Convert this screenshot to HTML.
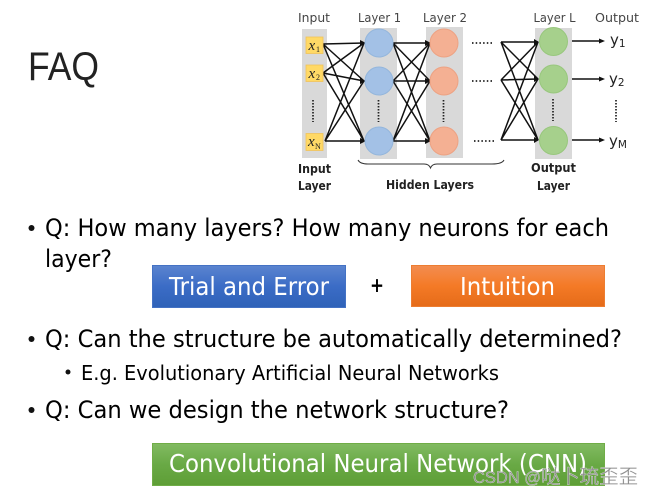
<!DOCTYPE html>
<html><head><meta charset="utf-8"><style>
html,body{margin:0;padding:0;background:#fff}
svg{display:block}
text{font-family:"DejaVu Sans","Noto Sans CJK SC",sans-serif}
</style></head><body>
<svg width="654" height="495" viewBox="0 0 654 495" xmlns="http://www.w3.org/2000/svg">
<defs>
<linearGradient id="b" x1="0" y1="0" x2="0" y2="1"><stop offset="0" stop-color="#5b84cf"/><stop offset=".5" stop-color="#3b6cc6"/><stop offset="1" stop-color="#2f62b8"/></linearGradient>
<linearGradient id="o" x1="0" y1="0" x2="0" y2="1"><stop offset="0" stop-color="#f38d50"/><stop offset=".5" stop-color="#f47a26"/><stop offset="1" stop-color="#e56b19"/></linearGradient>
<linearGradient id="g" x1="0" y1="0" x2="0" y2="1"><stop offset="0" stop-color="#82bb62"/><stop offset=".5" stop-color="#69a945"/><stop offset="1" stop-color="#5e9e36"/></linearGradient>
</defs>
<rect width="654" height="495" fill="#fff"/>
<text x="28" y="80" font-size="40" fill="#222" textLength="71" lengthAdjust="spacingAndGlyphs" style="font-family:'Liberation Sans',sans-serif">FAQ</text>

<!-- gray columns -->
<g fill="#d9d9d9">
<rect x="302" y="29" width="25" height="129"/>
<rect x="360" y="28" width="37" height="131"/>
<rect x="426" y="27" width="37" height="131"/>
<rect x="535" y="28" width="37" height="131"/>
</g>

<!-- connections -->
<g stroke="#111" stroke-width="1.500" fill="none">
<path d="M323 44L364 43M323 44L364 81M323 44L364 141M323 73L364 43M323 73L364 81M323 73L364 141M325 141L364 43M325 141L364 81M325 141L364 141"/>
<path d="M393 43L430 43M393 43L430 81M393 43L430 141M393 81L430 43M393 81L430 81M393 81L430 141M393 141L430 43M393 141L430 81M393 141L430 141"/>
<path d="M501 42L538 42M501 42L538 79M501 42L538 140M501 80L538 42M501 80L538 79M501 80L538 140M501 140L538 42M501 140L538 79M501 140L538 140"/>
<path d="M572 41H601M572 79H601M572 140H601"/>
</g>
<g fill="#111">
<path d="M366 43l-6-3v6zM366 81l-6-3v6zM366 141l-6-3v6z"/>
<path d="M431 43l-6-3v6zM431 81l-6-3v6zM431 141l-6-3v6z"/>
<path d="M539 42l-5-3v6zM539 79l-5-3v6zM539 140l-5-3v6z"/>
<path d="M605 41l-6-2.500v5zM605 79l-6-2.500v5zM605 140l-6-2.500v5z"/>
</g>

<!-- inputs -->
<g fill="#ffd966" stroke="#f0c25a" stroke-width=".8">
<rect x="306" y="37" width="17" height="16.500"/>
<rect x="306" y="65" width="17" height="16.500"/>
<rect x="306" y="133.500" width="17" height="17"/>
</g>
<g fill="#222">
<text x="308.500" y="50" font-size="15" font-style="italic" style="font-family:'Liberation Serif',serif">x</text>
<text x="316" y="52" font-size="8" style="font-family:'Liberation Serif',serif">1</text>
<text x="308.500" y="78" font-size="15" font-style="italic" style="font-family:'Liberation Serif',serif">x</text>
<text x="316" y="80" font-size="8" style="font-family:'Liberation Serif',serif">2</text>
<text x="308" y="146" font-size="15" font-style="italic" style="font-family:'Liberation Serif',serif">x</text>
<text x="315" y="149" font-size="8" style="font-family:'Liberation Serif',serif">N</text>
</g>

<!-- circles -->
<g fill="#a3c1e6" stroke="#94b6dc" stroke-width="1">
<circle cx="379" cy="43" r="14"/><circle cx="379" cy="81" r="14"/><circle cx="379" cy="141" r="14"/>
</g>
<g fill="#f4b093" stroke="#eda283" stroke-width="1">
<circle cx="444" cy="43" r="14"/><circle cx="444" cy="81" r="14"/><circle cx="444" cy="141" r="14"/>
</g>
<g fill="#a6d08c" stroke="#98c77d" stroke-width="1">
<circle cx="553.500" cy="41.500" r="14"/><circle cx="553.500" cy="79" r="14"/><circle cx="553.500" cy="140.500" r="14"/>
</g>

<!-- vertical dots -->
<g stroke="#222" stroke-width="1.700" stroke-dasharray="1.500 1.500" fill="none">
<path d="M313 100V122M378.500 100V122M443.500 100V122M553 99V121M616 100V122"/>
</g>
<!-- horizontal dots -->
<g stroke="#222" stroke-width="1.700" stroke-dasharray="1.500 2.200" fill="none">
<path d="M472 43H494M472 81H494M474 141H496"/>
</g>

<!-- brace -->
<path d="M358 160Q360 164 368 164H424Q429 164 430.500 168Q432 164 437 164H492Q502 164 504 160" fill="none" stroke="#333" stroke-width="1"/>

<!-- diagram labels -->
<g fill="#444" font-size="12">
<text x="298" y="22" textLength="32" lengthAdjust="spacingAndGlyphs">Input</text>
<text x="358" y="22" textLength="43" lengthAdjust="spacingAndGlyphs">Layer 1</text>
<text x="423" y="22" textLength="44" lengthAdjust="spacingAndGlyphs">Layer 2</text>
<text x="533.500" y="22" textLength="42" lengthAdjust="spacingAndGlyphs">Layer L</text>
<text x="595" y="22" textLength="44" lengthAdjust="spacingAndGlyphs">Output</text>
</g>
<g fill="#222" font-size="12" font-weight="bold">
<text x="298" y="173" textLength="33" lengthAdjust="spacingAndGlyphs">Input</text>
<text x="298" y="190" textLength="33" lengthAdjust="spacingAndGlyphs">Layer</text>
<text x="386" y="189" textLength="88" lengthAdjust="spacingAndGlyphs">Hidden Layers</text>
<text x="531" y="172" textLength="45" lengthAdjust="spacingAndGlyphs">Output</text>
<text x="537" y="190" textLength="33" lengthAdjust="spacingAndGlyphs">Layer</text>
</g>
<g fill="#222" font-size="15">
<text x="610" y="45">y<tspan font-size="10.500" dy="2">1</tspan></text>
<text x="609" y="84">y<tspan font-size="10.500" dy="2">2</tspan></text>
<text x="609" y="146">y<tspan font-size="10.500" dy="2">M</tspan></text>
</g>

<!-- bullets -->
<g fill="#111">
<circle cx="31.500" cy="228" r="3"/>
<circle cx="31.500" cy="339" r="3"/>
<circle cx="31.500" cy="410" r="3"/>
<circle cx="68" cy="372" r="2.500"/>
</g>
<g fill="#000" font-size="24">
<text x="45" y="236" textLength="564" lengthAdjust="spacingAndGlyphs">Q: How many layers? How many neurons for each</text>
<text x="45" y="267" textLength="67" lengthAdjust="spacingAndGlyphs">layer?</text>
<text x="45" y="347" textLength="577" lengthAdjust="spacingAndGlyphs">Q: Can the structure be automatically determined?</text>
<text x="81" y="380" font-size="20" textLength="418" lengthAdjust="spacingAndGlyphs">E.g. Evolutionary Artificial Neural Networks</text>
<text x="45" y="418" textLength="464" lengthAdjust="spacingAndGlyphs">Q: Can we design the network structure?</text>
<text x="370" y="292" font-size="20" font-weight="bold" textLength="14" lengthAdjust="spacingAndGlyphs">+</text>
</g>

<!-- boxes -->
<rect x="152.500" y="265.500" width="193" height="42" fill="url(#b)" stroke="#4472c4" stroke-width="1"/>
<text x="169" y="295" font-size="25" fill="#fff" textLength="160" lengthAdjust="spacingAndGlyphs">Trial and Error</text>
<rect x="411.500" y="265.500" width="193" height="41" fill="url(#o)" stroke="#ed7d31" stroke-width="1"/>
<text x="460" y="295" font-size="25" fill="#fff" textLength="95" lengthAdjust="spacingAndGlyphs">Intuition</text>
<rect x="152.500" y="443.500" width="452" height="42" fill="url(#g)" stroke="#70ad47" stroke-width="1"/>
<text x="169" y="472" font-size="25" fill="#fff" textLength="418" lengthAdjust="spacingAndGlyphs">Convolutional Neural Network (CNN)</text>

<!-- watermark -->
<text x="473" y="483" font-size="17" fill="#8e8e8e" stroke="#fff" stroke-width=".25" textLength="68" lengthAdjust="spacingAndGlyphs" style="font-family:'Liberation Sans',sans-serif">CSDN @</text>
<text x="541" y="483" font-size="19.500" fill="#8e8e8e" stroke="#fff" stroke-width=".25" textLength="97" lengthAdjust="spacingAndGlyphs" style="font-family:'Noto Sans CJK SC',sans-serif">哒卜琉歪歪</text>
</svg>
</body></html>
